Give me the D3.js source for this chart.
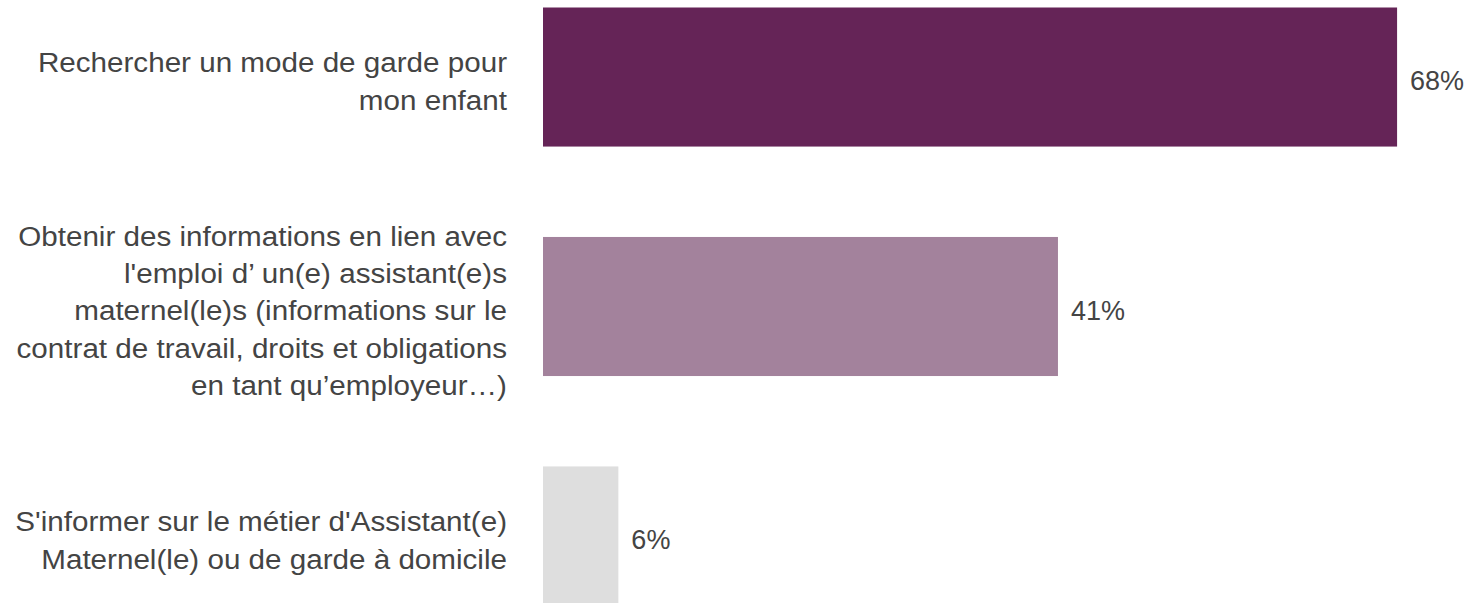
<!DOCTYPE html>
<html>
<head>
<meta charset="utf-8">
<script src="https://cdn.jsdelivr.net/npm/d3@7"></script>
<style>
  body { margin: 0; background: #fff; }
  svg text { font-family: "Liberation Sans", Arial, sans-serif; fill: #444; }
</style>
</head>
<body>
<svg id="chart" width="1472" height="603"></svg>
<script>
  const categories = [
    ['Rechercher un mode de garde pour', 'mon enfant'],
    ['Obtenir des informations en lien avec', "l'emploi d\u2019 un(e) assistant(e)s", 'maternel(le)s (informations sur le', 'contrat de travail, droits et obligations', 'en tant qu\u2019employeur\u2026)'],
    ["S'informer sur le métier d'Assistant(e)", 'Maternel(le) ou de garde à domicile']
  ]
  const values = [68, 41, 6]
  const colors = ['#652457', '#a3829c', '#dedede']

  const svg = d3.select('#chart')
  const fontSize = 27
  const lineH = 37.2
  const labelRight = 507
  const stretch = 1.097

  const x = d3.scaleLinear().domain([0, 100]).range([543, 543 + 1256])
  const y = d3.scaleBand()
    .domain(d3.range(values.length))
    .range([7.5, 605.5])
    .paddingInner(0.394)
    .paddingOuter(0)

  svg.selectAll('rect.bar')
    .data(values)
    .enter().append('rect')
    .attr('class', 'bar')
    .attr('x', x(0))
    .attr('y', (d, i) => y(i))
    .attr('width', d => x(d) - x(0))
    .attr('height', y.bandwidth())
    .style('fill', (d, i) => colors[i])

  svg.selectAll('text.value')
    .data(values)
    .enter().append('text')
    .attr('class', 'value')
    .attr('x', d => x(d) + 13)
    .attr('y', (d, i) => y(i) + y.bandwidth() / 2 + 4)
    .attr('dy', '0.35em')
    .style('font-size', fontSize + 'px')
    .text(d => d + '%')

  // category labels, right aligned, multi-line (slightly wider glyphs than the font)
  categories.forEach((lines, i) => {
    const cy = y(i) + y.bandwidth() / 2 + 4.5
    const t = svg.append('text')
      .attr('text-anchor', 'end')
      .attr('transform', `translate(${labelRight},0) scale(${stretch},1)`)
      .style('font-size', fontSize + 'px')
    lines.forEach((line, j) => {
      t.append('tspan')
        .attr('x', 0)
        .attr('y', cy + (j - (lines.length - 1) / 2) * lineH)
        .attr('dy', '0.35em')
        .text(line)
    })
  })
</script>
</body>
</html>
